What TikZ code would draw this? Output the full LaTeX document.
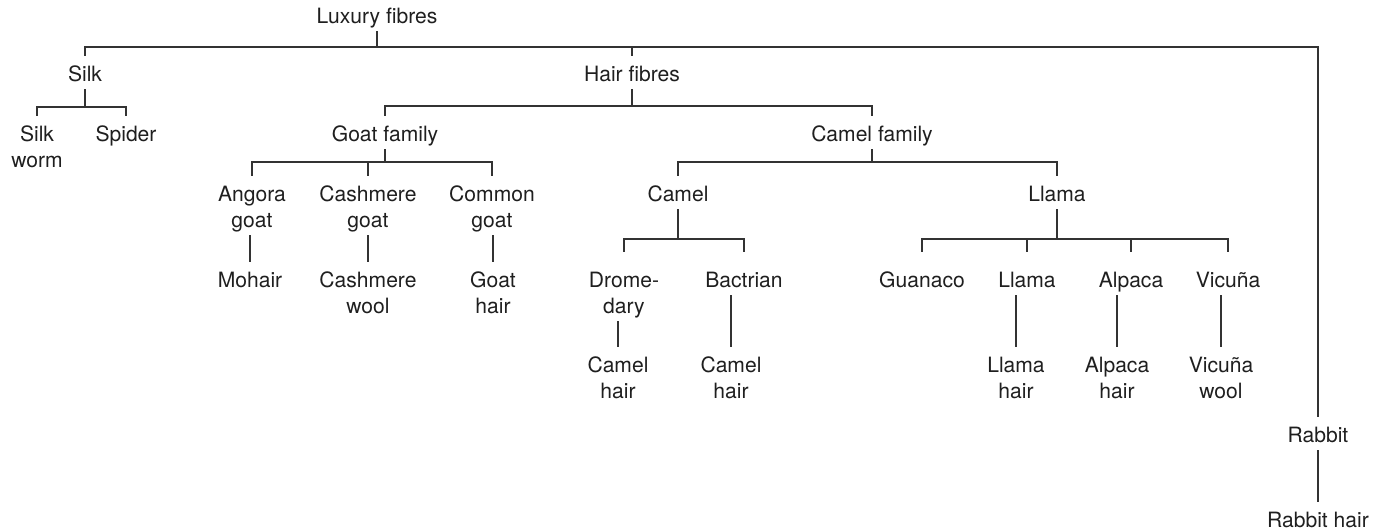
\documentclass[tikz,border=0pt]{standalone}
\usepackage{fontspec}
\setmainfont{TeX Gyre Heros}
\usetikzlibrary{positioning,calc}

\tikzset{
  lbl/.style={anchor=north,align=center,inner xsep=2pt,inner ysep=1.7pt,text=black!88,
    font=\fontsize{12}{14.7}\selectfont,
    execute at begin node={\rule{0pt}{#1}},execute at end node={\vphantom{g}}},
  lbl/.default=12.6pt,
  two/.style={lbl=27.3pt},
  link/.style={line width=0.7pt,draw=black!80}
}

\begin{document}
\begin{tikzpicture}[x=0.02cm,y=-0.02cm]
  \useasboundingbox (0,0) rectangle (1380,531);
  \node[lbl] (lux) at (377,-2) {Luxury fibres};
  \node[lbl] (silk) at (85,56) {Silk};
  \node[lbl] (hair) at (632,56) {Hair fibres};
  \node[two] (sw) at (37,116) {Silk\\worm};
  \node[lbl] (spi) at (126,116) {Spider};
  \node[lbl] (goat) at (385,116) {Goat family};
  \node[lbl] (camf) at (872,116) {Camel family};
  \node[two] (ang) at (252,176) {Angora\\goat};
  \node[two] (cas) at (368,176) {Cashmere\\goat};
  \node[two] (com) at (492,176) {Common\\goat};
  \node[lbl] (cam) at (678,176) {Camel};
  \node[lbl] (lla) at (1057,176) {Llama};
  \node[lbl] (moh) at (250,262) {Mohair};
  \node[two] (cw) at (368,262) {Cashmere\\wool};
  \node[two] (gh) at (493,262) {Goat\\hair};
  \node[lbl=33pt] (dro) at (624,252) {Drome-\\dary};
  \node[lbl=18.3pt] (bac) at (744,252) {Bactrian};
  \node[lbl=18.3pt] (gua) at (922,252) {Guanaco};
  \node[lbl=18.3pt] (llb) at (1027,252) {Llama};
  \node[lbl=18.3pt] (alp) at (1131,252) {Alpaca};
  \node[lbl=18.3pt] (vic) at (1228,252) {Vicuña};
  \node[two] (ch1) at (618,347) {Camel\\hair};
  \node[two] (ch2) at (731,347) {Camel\\hair};
  \node[two] (lh) at (1016,347) {Llama\\hair};
  \node[two] (ah) at (1117,347) {Alpaca\\hair};
  \node[two] (vw) at (1221,347) {Vicuña\\wool};
  \node[lbl] (rab) at (1318,417) {Rabbit};
  \node[lbl] (rh) at (1318,502) {Rabbit hair};

  \foreach \p/\c/\y in {lux/silk/47,lux/hair/47,lux/rab/47,silk/sw/107,silk/spi/107,
      hair/goat/106,hair/camf/106,goat/ang/162,goat/cas/162,goat/com/162,
      camf/cam/162,camf/lla/162,cam/dro/239,cam/bac/239,
      lla/gua/239,lla/llb/239,lla/alp/239,lla/vic/239}{%
    \draw[link] (\p.south) |- (\c.north |- 0,\y) -- (\c.north);
  }
  \foreach \a/\b in {ang/moh,cas/cw,com/gh,dro/ch1,bac/ch2,llb/lh,alp/ah,vic/vw,rab/rh}{%
    \draw[link] (\a.south -| \b.north) -- (\b.north);
  }
\end{tikzpicture}
\end{document}
